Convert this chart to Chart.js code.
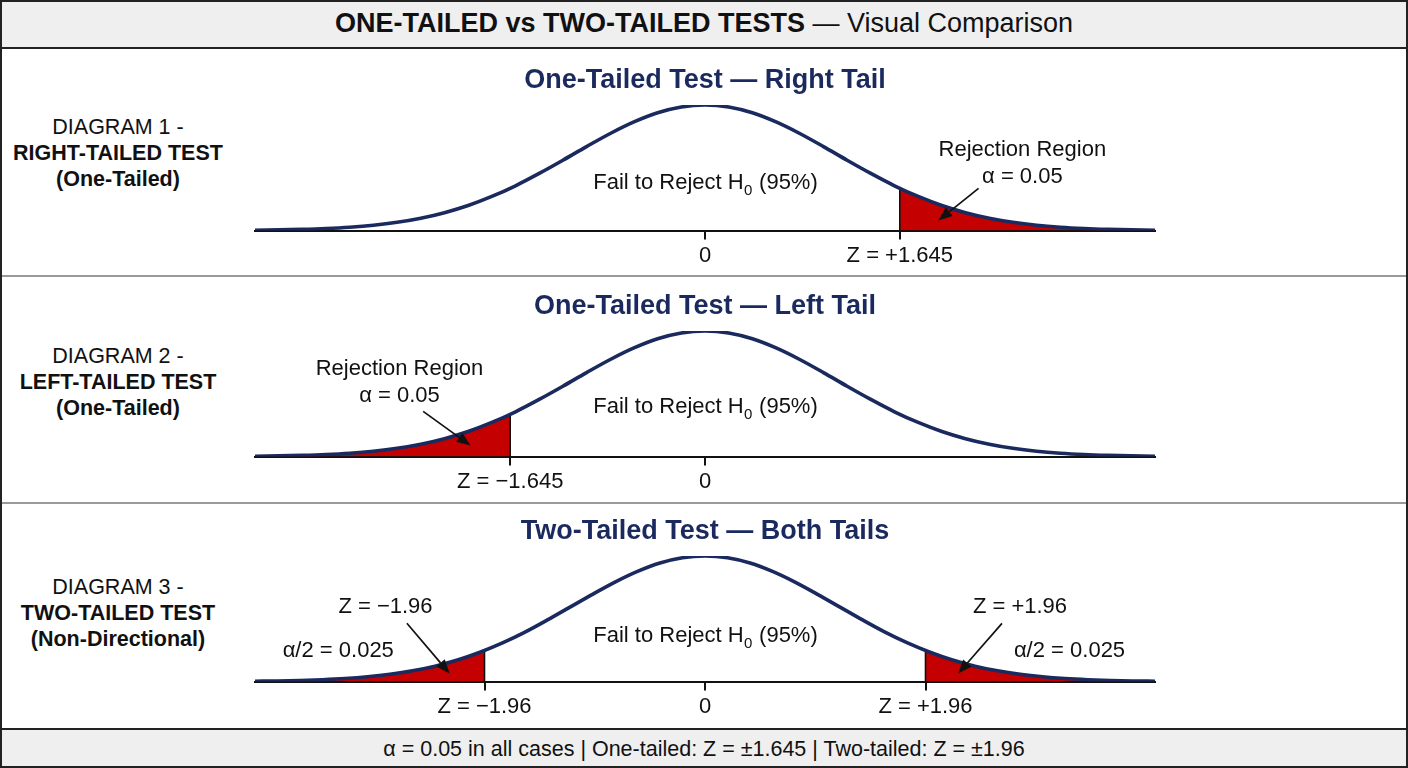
<!DOCTYPE html>
<html>
<head>
<meta charset="utf-8">
<script src="https://cdn.jsdelivr.net/npm/chart.js@4.4.1/dist/chart.umd.min.js"></script>
<style>
body { margin: 0; width: 1408px; height: 768px; position: relative; overflow: hidden; background: #fff; font-family: "Liberation Sans", Arial, sans-serif; color: #111; }
#header { position: absolute; left: 0; top: 0; width: 1408px; height: 47px; background: #efefef; border-bottom: 2px solid #222; text-align: center; font-size: 27px; line-height: 47px; }
#footer { position: absolute; left: 0; top: 728px; width: 1408px; height: 38px; background: #efefef; border-top: 2px solid #222; text-align: center; font-size: 21.5px; line-height: 38px; }
.sep { position: absolute; left: 0; width: 1408px; height: 2px; background: #9a9a9a; }
.label { position: absolute; left: 0; width: 236px; text-align: center; font-size: 21.5px; line-height: 26px; }
.panel { position: absolute; left: 0; width: 1408px; height: 226px; }
#frame { position: absolute; left: 0; top: 0; width: 1408px; height: 768px; border: 2px solid #222; box-sizing: border-box; pointer-events: none; }
</style>
</head>
<body>
<div id="header"><b>ONE-TAILED vs TWO-TAILED TESTS</b> — Visual Comparison</div>

<div class="sep" style="top:275px"></div>
<div class="sep" style="top:502px"></div>

<div class="label" style="top:114px">DIAGRAM 1 -<br><b>RIGHT-TAILED TEST</b><br><b>(One-Tailed)</b></div>
<div class="label" style="top:343px">DIAGRAM 2 -<br><b>LEFT-TAILED TEST</b><br><b>(One-Tailed)</b></div>
<div class="label" style="top:574px">DIAGRAM 3 -<br><b>TWO-TAILED TEST</b><br><b>(Non-Directional)</b></div>

<div class="panel" style="top:48px"><canvas id="chart1" width="1408" height="226"></canvas></div>
<div class="panel" style="top:274px"><canvas id="chart2" width="1408" height="226"></canvas></div>
<div class="panel" style="top:499px"><canvas id="chart3" width="1408" height="226"></canvas></div>

<div id="footer">α = 0.05 in all cases | One-tailed: Z = ±1.645 | Two-tailed: Z = ±1.96</div>
<div id="frame"></div>

<script>
// z-Werte des Rasters
const zGrid = [-4.0, -3.8, -3.6, -3.4, -3.2, -3.0, -2.8, -2.6, -2.4, -2.2, -2.0, -1.8, -1.6, -1.4, -1.2, -1.0, -0.8, -0.6, -0.4, -0.2,
    0, 0.2, 0.4, 0.6, 0.8, 1.0, 1.2, 1.4, 1.6, 1.8, 2.0, 2.2, 2.4, 2.6, 2.8, 3.0, 3.2, 3.4, 3.6, 3.8, 4.0]

// Kurvenhoehe (relativ zum Gipfel)
const oneTailHeight = [0.0016, 0.0030, 0.0055, 0.0096, 0.0163, 0.0268, 0.0427, 0.066, 0.0986, 0.143, 0.200, 0.272, 0.357, 0.455, 0.560, 0.669, 0.773, 0.865, 0.938, 0.984,
    1, 0.984, 0.938, 0.865, 0.773, 0.669, 0.560, 0.455, 0.357, 0.272, 0.200, 0.143, 0.0986, 0.066, 0.0427, 0.0268, 0.0163, 0.0096, 0.0055, 0.0030, 0.0016]
const twoTailHeight = [0.0030, 0.0053, 0.0090, 0.0150, 0.0242, 0.038, 0.058, 0.0857, 0.123, 0.172, 0.234, 0.308, 0.394, 0.491, 0.593, 0.695, 0.792, 0.877, 0.944, 0.986,
    1, 0.986, 0.944, 0.877, 0.792, 0.695, 0.593, 0.491, 0.394, 0.308, 0.234, 0.172, 0.123, 0.0857, 0.058, 0.038, 0.0242, 0.0150, 0.0090, 0.0053, 0.0030]

// kritische Werte
const oneTailCut = 1.645
const oneTailCutHeight = 0.337
const twoTailCut = 1.96
const twoTailCutHeight = 0.248

// Achsenbeschriftung
const ticks1 = [0, 1.645]
const tickLabels1 = ['0', 'Z = +1.645']
const ticks2 = [-1.645, 0]
const tickLabels2 = ['Z = \u22121.645', '0']
const ticks3 = [-1.96, 0, 1.96]
const tickLabels3 = ['Z = \u22121.96', '0', 'Z = +1.96']

const titles = ['One-Tailed Test \u2014 Right Tail', 'One-Tailed Test \u2014 Left Tail', 'Two-Tailed Test \u2014 Both Tails']

const NAVY = '#1b2a5e'
const RED = '#c40000'
const FONT = "'Liberation Sans', Arial, sans-serif"

Chart.defaults.font.family = FONT
Chart.defaults.color = '#111'

function toPoints(xs, ys) {
    let pts = []
    for (let i = 0; i < xs.length; i++) pts.push({ x: xs[i], y: ys[i] })
    return pts
}

// Flaeche im Ablehnungsbereich
function tailPoints(heights, cut, cutHeight, side) {
    let pts = []
    for (let i = 0; i < zGrid.length; i++) {
        if (side > 0 && zGrid[i] > cut) pts.push({ x: zGrid[i], y: heights[i] })
        if (side < 0 && zGrid[i] < cut) pts.push({ x: zGrid[i], y: heights[i] })
    }
    if (side > 0) pts.unshift({ x: cut, y: cutHeight })
    else pts.push({ x: cut, y: cutHeight })
    return pts
}

function drawFail(ctx, cx, cy) {
    let a = 'Fail to Reject H', b = '0', c = ' (95%)'
    ctx.font = '22px ' + FONT
    let wa = ctx.measureText(a).width, wc = ctx.measureText(c).width
    ctx.font = '15px ' + FONT
    let wb = ctx.measureText(b).width
    let x = cx - (wa + wb + wc) / 2
    ctx.textAlign = 'left'
    ctx.font = '22px ' + FONT
    ctx.fillText(a, x, cy)
    ctx.font = '15px ' + FONT
    ctx.fillText(b, x + wa + 0.5, cy + 7)
    ctx.font = '22px ' + FONT
    ctx.fillText(c, x + wa + wb + 1, cy)
}

function drawArrow(ctx, x1, y1, x2, y2) {
    let ang = Math.atan2(y2 - y1, x2 - x1)
    let len = 14, w = 5.5
    let bx = x2 - Math.cos(ang) * len, by = y2 - Math.sin(ang) * len
    ctx.strokeStyle = '#111'
    ctx.lineWidth = 1.7
    ctx.beginPath()
    ctx.moveTo(x1, y1)
    ctx.lineTo(bx, by)
    ctx.stroke()
    ctx.fillStyle = '#111'
    ctx.beginPath()
    ctx.moveTo(x2, y2)
    ctx.lineTo(bx - Math.sin(ang) * w, by + Math.cos(ang) * w)
    ctx.lineTo(bx + Math.sin(ang) * w, by - Math.cos(ang) * w)
    ctx.closePath()
    ctx.fill()
}

function notesPlugin(notes, arrows, failAt) {
    return {
        id: 'notes',
        afterDatasetsDraw(chart) {
            const ctx = chart.ctx
            const sx = chart.scales.x, sy = chart.scales.y
            ctx.save()
            ctx.fillStyle = '#111'
            ctx.textBaseline = 'middle'
            drawFail(ctx, sx.getPixelForValue(failAt[0]), sy.getPixelForValue(failAt[1]))
            ctx.font = '22px ' + FONT
            ctx.textAlign = 'center'
            for (let n of notes) {
                ctx.fillText(n.text, sx.getPixelForValue(n.z), sy.getPixelForValue(n.h))
            }
            for (let a of arrows) {
                drawArrow(ctx, sx.getPixelForValue(a[0]), sy.getPixelForValue(a[1]), sx.getPixelForValue(a[2]), sy.getPixelForValue(a[3]))
            }
            ctx.restore()
        }
    }
}

function createPanel(id, title, heights, range, tails, cuts, tickVals, tickLabels, plugin) {
    let datasets = [{
        data: toPoints(zGrid, heights),
        borderColor: NAVY,
        borderWidth: 3.6,
        pointRadius: 0,
        cubicInterpolationMode: 'monotone',
        fill: false,
        order: 0
    }]
    for (let c of cuts) {
        datasets.push({
            data: [{ x: c[0], y: 0 }, { x: c[0], y: c[1] }],
            borderColor: '#111',
            borderWidth: 1.6,
            pointRadius: 0,
            fill: false,
            order: 1
        })
    }
    for (let t of tails) {
        datasets.push({
            data: t,
            borderColor: 'rgba(0,0,0,0)',
            borderWidth: 0,
            backgroundColor: RED,
            pointRadius: 0,
            cubicInterpolationMode: 'monotone',
            fill: 'origin',
            order: 2
        })
    }

    new Chart(document.getElementById(id), {
        type: 'line',
        data: { datasets: datasets },
        options: {
            responsive: false,
            animation: false,
            layout: { padding: { left: 255, right: 253, top: 0, bottom: 2 } },
            plugins: {
                legend: { display: false },
                tooltip: { enabled: false },
                title: {
                    display: true,
                    text: title,
                    color: NAVY,
                    font: { size: 27, weight: 'bold' },
                    padding: { top: 16, bottom: 8.6 }
                }
            },
            scales: {
                x: {
                    type: 'linear',
                    min: -range,
                    max: range,
                    afterBuildTicks: function (axis) {
                        axis.ticks = tickVals.map(v => ({ value: v }))
                    },
                    ticks: {
                        autoSkip: false,
                        maxRotation: 0,
                        padding: 3,
                        color: '#111',
                        font: { size: 22 },
                        callback: function (value, index) { return tickLabels[index] }
                    },
                    grid: { drawOnChartArea: false, drawTicks: true, tickLength: 9, color: '#111', lineWidth: 2 },
                    border: { color: '#111', width: 2 }
                },
                y: { display: false, min: 0, max: 1 }
            }
        },
        plugins: [plugin]
    })
}

createPanel('chart1', titles[0], oneTailHeight, 3.8,
    [tailPoints(oneTailHeight, oneTailCut, oneTailCutHeight, 1)],
    [[oneTailCut, oneTailCutHeight]],
    ticks1, tickLabels1,
    notesPlugin([
        { text: 'Rejection Region', z: 2.68, h: 0.64 },
        { text: '\u03b1 = 0.05', z: 2.68, h: 0.424 }
    ], [[2.31, 0.336, 1.97, 0.08]], [0, 0.376]))

createPanel('chart2', titles[1], oneTailHeight, 3.8,
    [tailPoints(oneTailHeight, -oneTailCut, oneTailCutHeight, -1)],
    [[-oneTailCut, oneTailCutHeight]],
    ticks2, tickLabels2,
    notesPlugin([
        { text: 'Rejection Region', z: -2.58, h: 0.696 },
        { text: '\u03b1 = 0.05', z: -2.58, h: 0.48 }
    ], [[-2.38, 0.36, -1.98, 0.088]], [0, 0.392]))

createPanel('chart3', titles[2], twoTailHeight, 4.0,
    [tailPoints(twoTailHeight, -twoTailCut, twoTailCutHeight, -1), tailPoints(twoTailHeight, twoTailCut, twoTailCutHeight, 1)],
    [[-twoTailCut, twoTailCutHeight], [twoTailCut, twoTailCutHeight]],
    ticks3, tickLabels3,
    notesPlugin([
        { text: 'Z = \u22121.96', z: -2.84, h: 0.592 },
        { text: '\u03b1/2 = 0.025', z: -3.26, h: 0.248 },
        { text: 'Z = +1.96', z: 2.80, h: 0.592 },
        { text: '\u03b1/2 = 0.025', z: 3.24, h: 0.248 }
    ], [[-2.65, 0.464, -2.27, 0.064], [2.64, 0.464, 2.25, 0.064]], [0, 0.36]))
</script>
</body>
</html>
